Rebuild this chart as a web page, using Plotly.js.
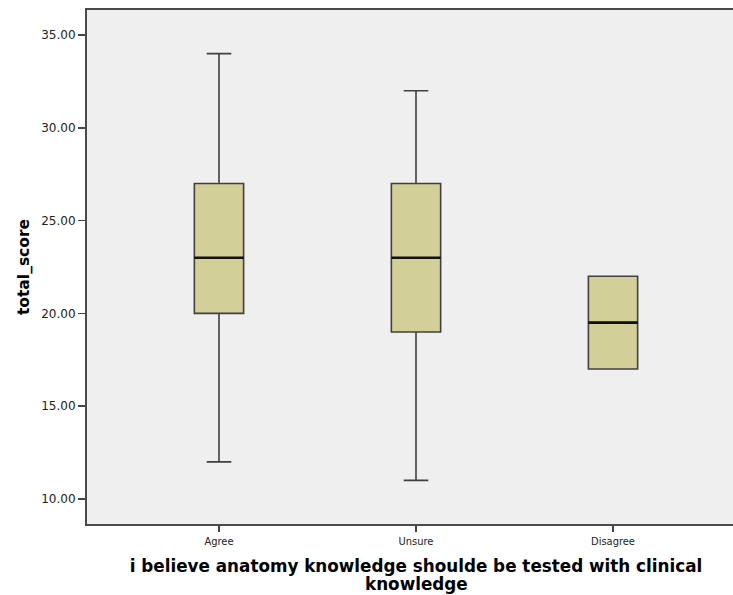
<!DOCTYPE html>
<html>
<head>
<meta charset="utf-8">
<script src="https://cdn.plot.ly/plotly-3.0.1.min.js"></script>
<style>
html,body{margin:0;padding:0;overflow:hidden;background:#fff;}
#chart{width:750px;height:595px;}
</style>
</head>
<body>
<div id="chart"></div>
<script>
const categories = ["Agree", "Unsure", "Disagree"];
const lowerWhisker = [12, 11, 17];
const q1 = [20, 19, 17];
const medians = [23, 23, 19.5];
const q3 = [27, 27, 22];
const upperWhisker = [34, 32, 22];
const yTicks = [10, 15, 20, 25, 30, 35];
const xTitleLines = ["i believe anatomy knowledge shoulde be tested with clinical", "knowledge"];

const boxWidth = 0.25;

const boxTrace = {
  type: "box",
  x: categories,
  q1: q1,
  median: medians,
  q3: q3,
  lowerfence: lowerWhisker,
  upperfence: upperWhisker,
  width: boxWidth,
  whiskerwidth: 0.5,
  fillcolor: "#d3cf98",
  line: {color: "#404040", width: 1.6},
  boxpoints: false,
  hoverinfo: "skip",
  showlegend: false
};

const medX = [], medY = [];
categories.forEach((c, i) => {
  medX.push(i - boxWidth / 2, i + boxWidth / 2, null);
  medY.push(medians[i], medians[i], null);
});
const medianTrace = {
  type: "scatter",
  mode: "lines",
  x: medX,
  y: medY,
  xaxis: "x2",
  line: {color: "#111", width: 2.6},
  hoverinfo: "skip",
  showlegend: false
};

const xr = [-0.67, 2.67];
const titleFont = {size: 16.8, family: "DejaVu Sans, sans-serif", color: "#000", weight: "bold"};

const layout = {
  width: 750,
  height: 595,
  margin: {l: 87, r: 5, t: 10, b: 71},
  paper_bgcolor: "#ffffff",
  plot_bgcolor: "#efefef",
  font: {family: "DejaVu Sans, sans-serif", color: "#222"},
  xaxis: {
    type: "category",
    range: xr,
    showgrid: false,
    zeroline: false,
    showline: true,
    mirror: true,
    linecolor: "#4a4a4a",
    linewidth: 2,
    ticks: "outside",
    ticklen: 6,
    tickwidth: 1.5,
    tickcolor: "#444",
    tickfont: {size: 11, color: "#222", family: "DejaVu Sans Condensed, DejaVu Sans, sans-serif"},
    title: {
      text: xTitleLines[0],
      font: titleFont,
      standoff: 13
    }
  },
  xaxis2: {
    range: xr,
    overlaying: "x",
    visible: false
  },
  yaxis: {
    range: [8.65, 36.35],
    tickvals: yTicks,
    tickformat: ".2f",
    showgrid: false,
    zeroline: false,
    showline: true,
    mirror: true,
    linecolor: "#4a4a4a",
    linewidth: 2,
    ticks: "outside",
    ticklen: 7,
    tickwidth: 1.5,
    tickcolor: "#444",
    tickfont: {size: 12, color: "#222", family: "DejaVu Sans, sans-serif"},
    title: {
      text: "total_score",
      font: {size: 15.5, family: "DejaVu Sans, sans-serif", color: "#000", weight: "bold"},
      standoff: 8
    }
  },
  annotations: [{
    text: xTitleLines[1],
    xref: "x2", yref: "paper",
    x: 1, y: 0,
    yshift: -60,
    xanchor: "center", yanchor: "middle",
    showarrow: false,
    font: titleFont
  }]
};

Plotly.newPlot("chart", [boxTrace, medianTrace], layout, {displayModeBar: false, staticPlot: true});
</script>
</body>
</html>
